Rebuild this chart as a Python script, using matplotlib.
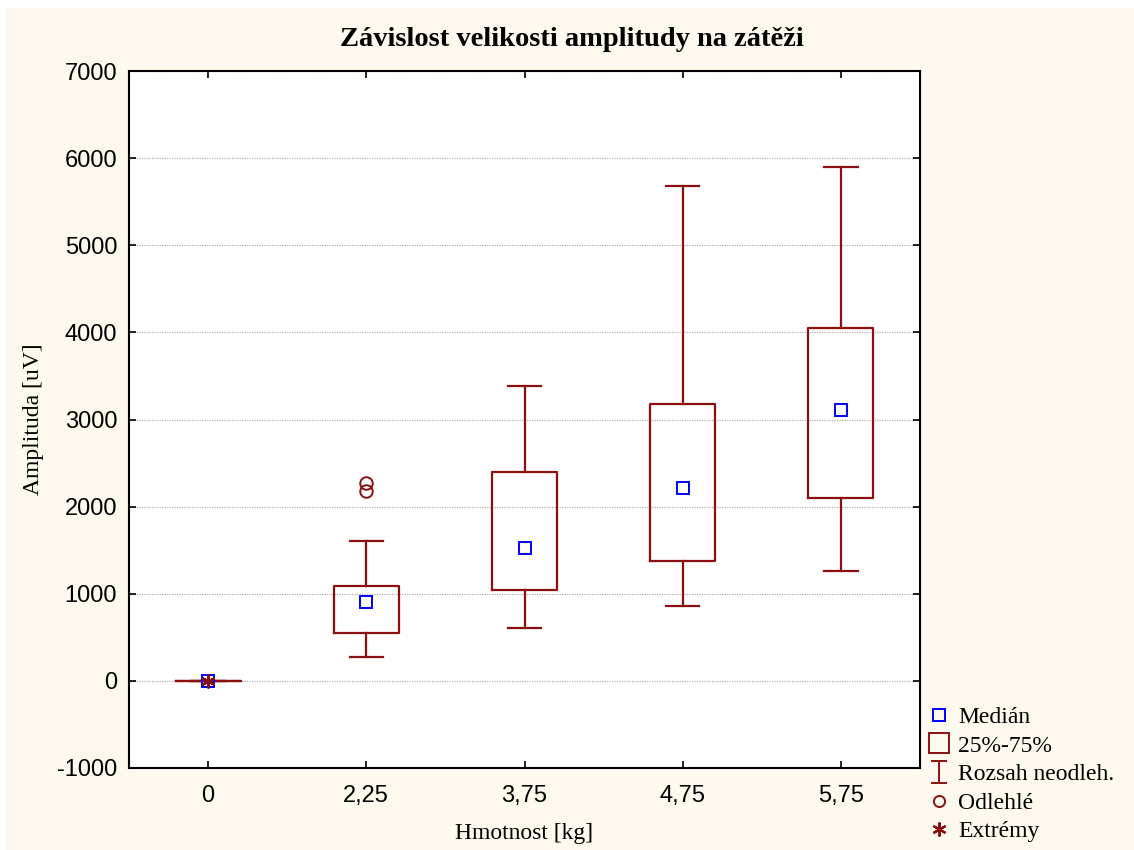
#!/usr/bin/env python3

import matplotlib
matplotlib.use("Agg")
import matplotlib.pyplot as plt
from matplotlib.lines import Line2D
from matplotlib.patches import Rectangle
from matplotlib.path import Path

# Data
categories = ["0", "2,25", "3,75", "4,75", "5,75"]
medians = [0, 900, 1530, 2210, 3110]
q1 = [0, 545, 1045, 1375, 2095]
q3 = [0, 1090, 2395, 3180, 4050]
whisk_lo = [0, 275, 605, 865, 1260]
whisk_hi = [0, 1605, 3385, 5680, 5895]
outliers = [[], [2270, 2185], [], [], []]
extremes = [[0], [], [], [], []]

DARK_RED = "#8B0F0F"
BLUE = "#0000FF"

plt.rcParams["font.family"] = ["Liberation Serif", "DejaVu Serif"]
plt.rcParams["axes.unicode_minus"] = False

fig = plt.figure(figsize=(11.34, 8.5), dpi=100, facecolor="white")
fig.patches.append(
    Rectangle((6 / 1134, 0), 1, 1 - 8 / 850,
              transform=fig.transFigure, facecolor="#FEF9EF",
              edgecolor="none", zorder=-10)
)

ax = fig.add_axes([129 / 1134, 1 - 768 / 850, 791 / 1134, 697 / 850])
ax.set_facecolor("white")

positions = list(range(1, len(categories) + 1))
stats = []
for i in range(len(categories)):
    stats.append({
        "med": medians[i], "q1": q1[i], "q3": q3[i],
        "whislo": whisk_lo[i], "whishi": whisk_hi[i],
        "fliers": outliers[i],
    })

ax.bxp(
    stats, positions=positions, widths=0.41, showfliers=True,
    boxprops=dict(color=DARK_RED, linewidth=1.6),
    whiskerprops=dict(color=DARK_RED, linewidth=1.6),
    capprops=dict(color=DARK_RED, linewidth=1.6),
    medianprops=dict(linestyle="none"),
    flierprops=dict(marker="o", markerfacecolor="none",
                    markeredgecolor=DARK_RED, markersize=9,
                    markeredgewidth=1.4),
    capwidths=0.21,
)

ax.plot(positions, medians, linestyle="none", marker="s",
        markerfacecolor="none", markeredgecolor=BLUE, markersize=8.5,
        markeredgewidth=1.4, zorder=5)
for p, ex in zip(positions, extremes):
    if ex:
        ax.plot([p] * len(ex), ex, linestyle="none", marker=(6, 2, 0),
                color=DARK_RED, markersize=10, markeredgewidth=1.6,
                zorder=6)

ax.set_xlim(0.5, 5.5)
ax.set_ylim(-1000, 7000)
ax.set_yticks(range(-1000, 7001, 1000))
ax.set_xticks(positions)
ax.set_xticklabels(categories)
ax.yaxis.grid(True, linestyle=(0, (1, 1)), color="#B0B0B0", linewidth=0.9)
ax.set_axisbelow(True)

ax.tick_params(direction="in", top=True, right=True, length=5, width=1.2,
               labelsize=17)
ax.tick_params(axis="x", pad=12)
ax.tick_params(axis="y", pad=8.5)
for lab in ax.get_xticklabels() + ax.get_yticklabels():
    lab.set_family(["Liberation Sans", "DejaVu Sans"])
for s in ax.spines.values():
    s.set_linewidth(1.5)

fig.text(572 / 1134, 1 - 40 / 850, "Závislost velikosti amplitudy na zátěži",
         fontsize=20.5, fontweight="bold", ha="center", va="center")
ax.set_xlabel("Hmotnost [kg]", fontsize=17, labelpad=12)
ax.set_ylabel("Amplituda [uV]", fontsize=17, labelpad=9)

# whisker glyph for the legend
whisker_marker = Path(
    [(-0.75, 1), (0.75, 1), (0, 1), (0, -1), (-0.75, -1), (0.75, -1)],
    [Path.MOVETO, Path.LINETO, Path.MOVETO, Path.LINETO,
     Path.MOVETO, Path.LINETO],
)

handles = [
    Line2D([], [], linestyle="none", marker="s", markerfacecolor="none",
           markeredgecolor=BLUE, markersize=8.5, markeredgewidth=1.4),
    Line2D([], [], linestyle="none", marker="s", markerfacecolor="none",
           markeredgecolor=DARK_RED, markersize=14, markeredgewidth=1.4),
    Line2D([], [], linestyle="none", marker=whisker_marker,
           color=DARK_RED, markersize=16, markeredgewidth=1.4),
    Line2D([], [], linestyle="none", marker="o", markerfacecolor="none",
           markeredgecolor=DARK_RED, markersize=8, markeredgewidth=1.4),
    Line2D([], [], linestyle="none", marker=(6, 2, 0), color=DARK_RED,
           markersize=10, markeredgewidth=1.6),
]
labels = ["Medián", "25%-75%", "Rozsah neodleh.", "Odlehlé", "Extrémy"]
fig.legend(handles, labels, loc="upper left",
           bbox_to_anchor=(918 / 1134, 1 - 697 / 850), frameon=False,
           fontsize=17, handlelength=1.0, handletextpad=0.3,
           labelspacing=0.3, borderaxespad=0)

fig.savefig("out.png", dpi=100, facecolor=fig.get_facecolor())
